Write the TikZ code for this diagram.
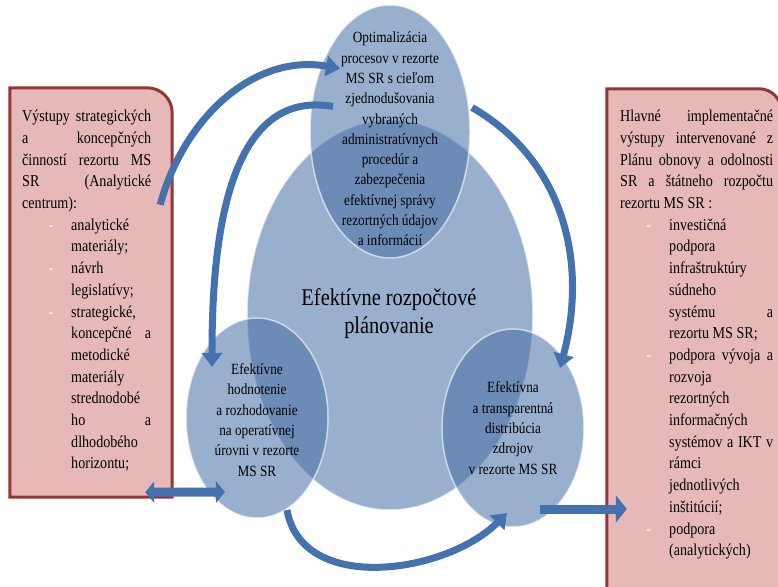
\documentclass[tikz,border=0pt]{standalone}
\usepackage{fontspec}
\setmainfont{Liberation Serif}[FakeStretch=0.85]
\usepackage{tikz}
\usetikzlibrary{arrows.meta,shapes.geometric}

\definecolor{boxfill}{RGB}{230,185,184}
\definecolor{boxedge}{RGB}{150,54,52}
\definecolor{cellblue}{RGB}{70,110,165}
\definecolor{arrowblue}{RGB}{68,114,175}

\newcommand{\dashitem}[1]{{\leftskip=49pt\noindent\llap{\textcolor{white}{-}\hspace{18pt}}#1\par}}
\newcommand{\boxsetup}{\fontsize{16.6}{21.7}\selectfont\tolerance=10000\relax\hyphenpenalty=10000\relax\hbadness=10000\relax}
\newcommand{\justifyon}{\rightskip=0pt\relax\spaceskip=0pt\relax\xspaceskip=0pt\relax\parfillskip=0pt plus 1fil\relax}

\begin{document}
\begin{tikzpicture}[x=1pt, y=1pt,
  frame/.style={rectangle, inner sep=0pt},
  boxline/.style={draw=boxedge, fill=boxfill, line width=3pt},
  boxtext/.style={anchor=north west, inner sep=0pt, text width=#1, font=\boxsetup},
  cell/.style={ellipse, inner sep=0pt, fill=cellblue, fill opacity=0.55, draw=white, draw opacity=0.6, line width=1.5pt},
  celltext/.style={align=center, inner sep=0pt, font=\fontsize{15.6}{20.3}\selectfont},
  cyc/.style={arrowblue, line width=7pt, -{Triangle[width=20pt,length=14pt]}},
  twoway/.style={arrowblue, line width=9pt, {Triangle[width=21pt,length=9pt]}-{Triangle[width=21pt,length=9pt]}},
  sidearrow/.style={arrowblue, line width=9pt, -{Triangle[width=27pt,length=11pt]}}]
\useasboundingbox (0,0) rectangle (778,586);
\clip (0,0) rectangle (778,586);

\node[frame, minimum width=162pt, minimum height=409pt] (lbox) at (91,293.5) {};
\node[frame, minimum width=174pt, minimum height=517pt] (rbox) at (694,238.5) {};
\draw[boxline] (lbox.south west) -- (lbox.north west) -- ([xshift=-25pt]lbox.north east)
  arc[start angle=90, end angle=0, radius=25pt] -- (lbox.south east) -- cycle;
\draw[boxline] (rbox.south west) -- (rbox.north west) -- ([xshift=-22pt]rbox.north east)
  arc[start angle=90, end angle=0, radius=22pt] -- (rbox.south east) -- cycle;

\node[cell, minimum width=286pt, minimum height=390pt] (mid) at (390,271) {};
\node[cell, minimum width=160pt, minimum height=253pt] (top) at (390,454.5) {};
\node[cell, minimum width=142pt, minimum height=200pt] (lell) at (257,168) {};
\node[cell, minimum width=142pt, minimum height=198pt] (rell) at (513,158) {};

\draw[cyc] ([xshift=-12pt,yshift=-117pt]lbox.north east) to[out=75,in=170] ([xshift=-50pt,yshift=63pt]top.center);
\draw[cyc] ([xshift=-57pt,yshift=25pt]top.center) to[out=170,in=90] ([xshift=-45pt,yshift=51pt]lell.center);
\draw[cyc] ([xshift=82pt,yshift=24pt]top.center) to[out=-30,in=75] ([xshift=47pt,yshift=60pt]rell.center);
\draw[cyc] ([xshift=30pt,yshift=-92pt]lell.center) to[out=-80,in=225] ([xshift=-6pt,yshift=-85pt]rell.center);
\draw[twoway] ([xshift=-27pt,yshift=5pt]lbox.south east) -- ([xshift=-32pt,yshift=-74pt]lell.center);
\draw[sidearrow] ([xshift=27pt,yshift=-81pt]rell.center) -- ([xshift=20pt,yshift=-161.5pt]rbox.west);

\node[celltext] (toptext) at (390,447) {Optimalizácia\\procesov v rezorte\\MS SR s cieľom\\zjednodušovania\\vybraných\\administratívnych\\procedúr a\\zabezpečenia\\efektívnej správy\\rezortných údajov\\a informácií};
\node[celltext, font=\fontsize{24}{28}\selectfont] (midtext) at (389,272) {Efektívne rozpočtové\\plánovanie};
\node[celltext] (ltext) at (257,166) {Efektívne\\hodnotenie\\a rozhodovanie\\na operatívnej\\úrovni v rezorte\\MS SR};
\node[celltext] (rtext) at (513,158) {Efektívna\\a transparentná\\distribúcia\\zdrojov\\v rezorte MS SR};

\node[boxtext=129pt] (lboxtext) at (22,476) {\justifyon Výstupy strategických\linebreak a koncepčných\linebreak činností rezortu MS\linebreak SR (Analytické\linebreak centrum):\par
\dashitem{analytické\linebreak materiály;}
\dashitem{návrh\linebreak legislatívy;}
\dashitem{strategické,\linebreak koncepčné a\linebreak metodické\linebreak materiály\linebreak strednodobé\linebreak ho a\linebreak dlhodobého\linebreak horizontu;}};

\node[boxtext=153pt] (rboxtext) at (620,476) {\justifyon Hlavné implementačné\linebreak výstupy intervenované z\linebreak Plánu obnovy a odolnosti\linebreak SR a štátneho rozpočtu\linebreak rezortu MS SR :\par
\dashitem{investičná\linebreak podpora\linebreak infraštruktúry\linebreak súdneho\linebreak systému a\linebreak rezortu MS SR;}
\dashitem{podpora vývoja a\linebreak rozvoja\linebreak rezortných\linebreak informačných\linebreak systémov a IKT v\linebreak rámci\linebreak jednotlivých\linebreak inštitúcií;}
\dashitem{podpora\linebreak (analytických)}};
\end{tikzpicture}
\end{document}
